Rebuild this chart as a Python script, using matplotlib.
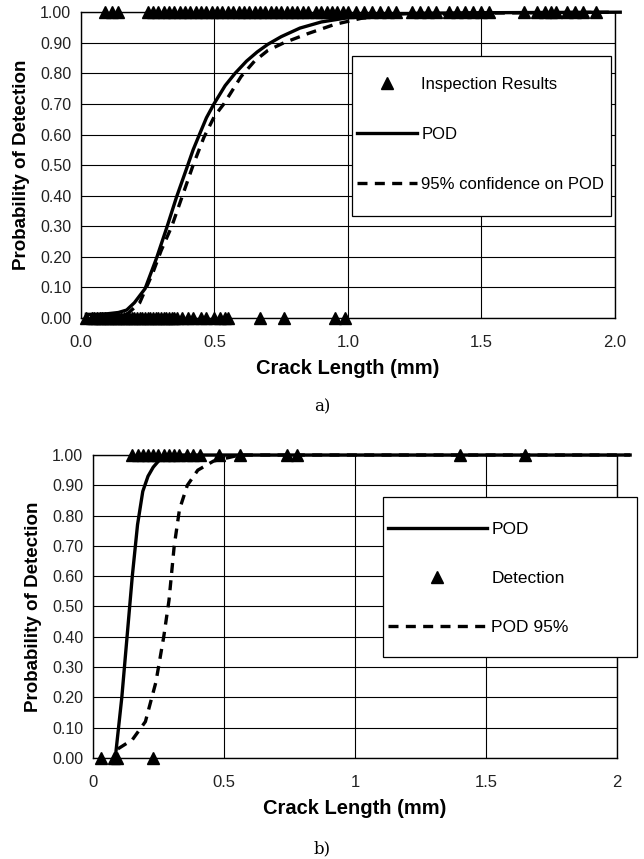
import numpy as np
import matplotlib.pyplot as plt
from matplotlib.patches import Rectangle
from matplotlib.ticker import FormatStrFormatter

plt.rcParams['font.family'] = ['Liberation Sans', 'DejaVu Sans']

# ---- panel a) data ----
a_hit = [0.09, 0.115, 0.14,
         0.25, 0.27, 0.29, 0.31, 0.33, 0.35, 0.37, 0.39, 0.41, 0.43, 0.45, 0.47,
         0.49, 0.51, 0.53, 0.55, 0.57, 0.59, 0.61, 0.63, 0.65, 0.67, 0.69, 0.71,
         0.73, 0.75, 0.77, 0.79, 0.81, 0.83, 0.85, 0.88, 0.90, 0.92, 0.94, 0.96,
         0.98, 1.00, 1.03, 1.06, 1.09, 1.12, 1.15, 1.18, 1.24, 1.27, 1.30, 1.33,
         1.38, 1.41, 1.44, 1.47, 1.50, 1.53, 1.66, 1.71, 1.74, 1.76, 1.78, 1.82,
         1.85, 1.88, 1.93]
a_miss = [0.02, 0.04, 0.05, 0.06, 0.07, 0.08, 0.09, 0.10, 0.11, 0.12, 0.13,
          0.14, 0.15, 0.16, 0.17, 0.18, 0.19, 0.20, 0.21, 0.22, 0.23, 0.24,
          0.25, 0.26, 0.27, 0.28, 0.29, 0.30, 0.31, 0.32, 0.33, 0.34, 0.35,
          0.36, 0.38, 0.40, 0.42, 0.45, 0.47, 0.50, 0.52, 0.54, 0.55, 0.67,
          0.76, 0.95, 0.99]
a_pod_x = [0.02, 0.06, 0.10, 0.14, 0.171, 0.20, 0.24, 0.283, 0.321, 0.358,
           0.396, 0.42, 0.446, 0.47, 0.498, 0.54, 0.577, 0.62, 0.66, 0.70,
           0.75, 0.82, 0.90, 1.0, 1.1, 1.25, 1.45, 1.7, 2.02]
a_pod_y = [0.012, 0.012, 0.014, 0.018, 0.026, 0.05, 0.096, 0.196, 0.295,
           0.396, 0.49, 0.55, 0.605, 0.655, 0.70, 0.76, 0.80, 0.84, 0.87,
           0.895, 0.92, 0.948, 0.968, 0.982, 0.99, 0.996, 0.998, 0.999, 1.0]
a_conf_x = [0.17, 0.22, 0.27, 0.30, 0.34, 0.38, 0.42, 0.46, 0.50, 0.535,
            0.60, 0.65, 0.70, 0.76, 0.85, 0.95, 1.05, 1.2, 1.5, 2.0]
a_conf_y = [0.01, 0.05, 0.15, 0.22, 0.30, 0.40, 0.50, 0.59, 0.66, 0.70,
            0.79, 0.84, 0.875, 0.90, 0.93, 0.96, 0.98, 0.99, 0.997, 1.0]

# ---- panel b) data ----
b_hit = [0.15, 0.17, 0.19, 0.21, 0.23, 0.25, 0.27, 0.29, 0.31, 0.33, 0.36,
         0.38, 0.41, 0.48, 0.56, 0.74, 0.78, 1.40, 1.65]
b_miss = [0.03, 0.08, 0.09, 0.23]
b_pod_x = [0.085, 0.11, 0.13, 0.15, 0.17, 0.19, 0.21, 0.23, 0.26, 0.30, 2.05]
b_pod_y = [0.0, 0.2, 0.4, 0.6, 0.77, 0.88, 0.93, 0.96, 0.99, 1.0, 1.0]
b_conf_x = [0.095, 0.15, 0.2, 0.24, 0.27, 0.29, 0.31, 0.33, 0.36, 0.40, 0.46,
            0.56, 2.05]
b_conf_y = [0.03, 0.06, 0.12, 0.25, 0.40, 0.52, 0.70, 0.82, 0.90, 0.95,
            0.98, 1.0, 1.0]

yticks = np.arange(0, 1.01, 0.1)

fig = plt.figure(figsize=(6.44, 8.59), dpi=100)
ax1 = fig.add_axes([0.1258, 0.6298, 0.829, 0.356])
ax2 = fig.add_axes([0.1444, 0.1176, 0.8137, 0.3527])


def style_axis(ax, xlabels):
    ax.set_xlim(0, 2.0)
    ax.set_ylim(0, 1.0)
    ax.set_yticks(yticks)
    ax.yaxis.set_major_formatter(FormatStrFormatter('%.2f'))
    ax.set_xticks([0, 0.5, 1.0, 1.5, 2.0])
    ax.set_xticklabels(xlabels)
    ax.grid(True, color='black', lw=0.8)
    ax.set_axisbelow(True)
    ax.tick_params(axis='y', length=0, labelsize=11.5, pad=7, colors='#222222')
    ax.tick_params(axis='x', length=0, labelsize=12, pad=12, colors='#222222')
    for s in ax.spines.values():
        s.set_color('black')
        s.set_linewidth(1.0)
    ax.set_xlabel('Crack Length (mm)', fontsize=14.5, fontweight='bold', labelpad=7)
    ax.set_ylabel('Probability of Detection', fontsize=13.5, fontweight='bold', labelpad=7)


def legend_box(ax, handles, frame, anchor, fs, hl, spacing):
    # frame drawn separately so the padding matches the original box
    ax.add_patch(Rectangle(frame[:2], frame[2], frame[3], transform=ax.transAxes,
                           facecolor='white', edgecolor='black', lw=0.9,
                           clip_on=False, zorder=4))
    leg = ax.legend(handles=handles, loc='center left', bbox_to_anchor=anchor,
                    fontsize=fs, frameon=False, labelspacing=spacing,
                    borderpad=0, borderaxespad=0, handlelength=hl,
                    handletextpad=0.25)
    leg.set_zorder(5)
    return leg


style_axis(ax1, ['0.0', '0.5', '1.0', '1.5', '2.0'])
style_axis(ax2, ['0', '0.5', '1', '1.5', '2'])

# panel a
l_tri, = ax1.plot(a_hit, np.ones(len(a_hit)), '^', color='black', ms=9,
                  clip_on=False, label='Inspection Results')
ax1.plot(a_miss, np.zeros(len(a_miss)), '^', color='black', ms=9, clip_on=False)
l_pod, = ax1.plot(a_pod_x, a_pod_y, '-', color='black', lw=2.4, clip_on=False, label='POD')
l_conf, = ax1.plot(a_conf_x, a_conf_y, color='black', lw=2.4, clip_on=False,
                   dashes=(3, 2.2), label='95% confidence on POD')
legend_box(ax1, [l_tri, l_pod, l_conf], (0.507, 0.333, 0.486, 0.523),
           (0.517, 0.600), 12, 3.6, 2.1)

# panel b
p_pod, = ax2.plot(b_pod_x, b_pod_y, '-', color='black', lw=2.4, clip_on=False, label='POD')
p_tri, = ax2.plot(b_hit, np.ones(len(b_hit)), '^', color='black', ms=9,
                  clip_on=False, label='Detection')
ax2.plot(b_miss, np.zeros(len(b_miss)), '^', color='black', ms=9, clip_on=False)
p_conf, = ax2.plot(b_conf_x, b_conf_y, color='black', lw=2.4, clip_on=False,
                   dashes=(3, 2.2), label='POD 95%')
legend_box(ax2, [p_pod, p_tri, p_conf], (0.553, 0.333, 0.485, 0.528),
           (0.563, 0.594), 12.5, 5.7, 1.95)

fig.text(0.5, 1 - 407 / 859, 'a)', ha='center', va='center', fontsize=12,
         family='DejaVu Serif')
fig.text(0.5, 1 - 849 / 859, 'b)', ha='center', va='center', fontsize=12,
         family='DejaVu Serif')

fig.savefig('out.png', dpi=100)
